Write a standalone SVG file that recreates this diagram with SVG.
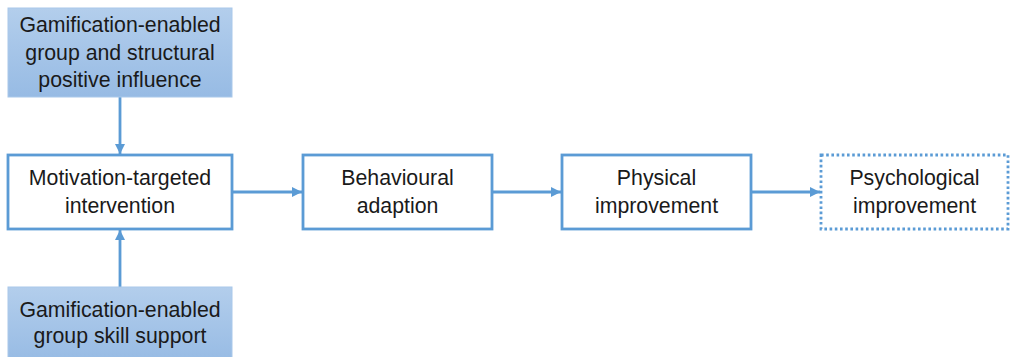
<svg xmlns="http://www.w3.org/2000/svg" width="1010" height="357" viewBox="0 0 1010 357">
<defs>
<linearGradient id="blueGrad" x1="0" y1="0" x2="0" y2="1">
<stop offset="0" stop-color="#B3CEEC"/>
<stop offset="1" stop-color="#97BBE4"/>
</linearGradient>
<marker id="arrow" viewBox="0 0 10 10" refX="10" refY="5" markerWidth="3.6" markerHeight="3.6" orient="auto" markerUnits="strokeWidth">
<path d="M0,0 L10,5 L0,10 Z" fill="#5B9BD5"/>
</marker>
</defs>
<style>
.shaded{fill:url(#blueGrad);stroke:#A9C8EA;stroke-width:1}
.plain{fill:#FFFFFF;stroke:#5B9BD5;stroke-width:2.8}
.dotted{fill:#FFFFFF;stroke:#5B9BD5;stroke-width:2.8;stroke-dasharray:2.6 2.6}
.lbl{font-family:"Liberation Sans",Arial,sans-serif;font-size:21.3px;fill:#1A1A1A;text-anchor:middle}
.conn{stroke:#5B9BD5;stroke-width:2.8;fill:none;marker-end:url(#arrow)}
</style>
<rect width="1010" height="357" fill="#FFFFFF"/>
<g id="connectors">
<line class="conn" x1="120" y1="97" x2="120" y2="154"/>
<line class="conn" x1="120" y1="287" x2="120" y2="230"/>
<line class="conn" x1="232" y1="192" x2="302" y2="192"/>
<line class="conn" x1="492" y1="192" x2="561" y2="192"/>
<line class="conn" x1="751" y1="192" x2="820" y2="192"/>
</g>
<g id="node-group-structural">
<rect class="shaded" x="8" y="8" width="224" height="89"/>
<text class="lbl" x="120" y="32">Gamification-enabled</text>
<text class="lbl" x="120" y="59.5">group and structural</text>
<text class="lbl" x="120" y="87">positive influence</text>
</g>
<g id="node-motivation">
<rect class="plain" x="8" y="155" width="224" height="74"/>
<text class="lbl" x="120" y="185">Motivation-targeted</text>
<text class="lbl" x="120" y="213">intervention</text>
</g>
<g id="node-behavioural">
<rect class="plain" x="303" y="155" width="189" height="74"/>
<text class="lbl" x="397.5" y="185">Behavioural</text>
<text class="lbl" x="397.5" y="213">adaption</text>
</g>
<g id="node-physical">
<rect class="plain" x="562" y="155" width="189" height="74"/>
<text class="lbl" x="656.5" y="185">Physical</text>
<text class="lbl" x="656.5" y="213">improvement</text>
</g>
<g id="node-psychological">
<rect class="dotted" x="821" y="155" width="187" height="74"/>
<text class="lbl" x="914.5" y="185">Psychological</text>
<text class="lbl" x="914.5" y="213">improvement</text>
</g>
<g id="node-skill-support">
<rect class="shaded" x="8" y="287" width="224" height="75"/>
<text class="lbl" x="120" y="317">Gamification-enabled</text>
<text class="lbl" x="120" y="343">group skill support</text>
</g>
</svg>
